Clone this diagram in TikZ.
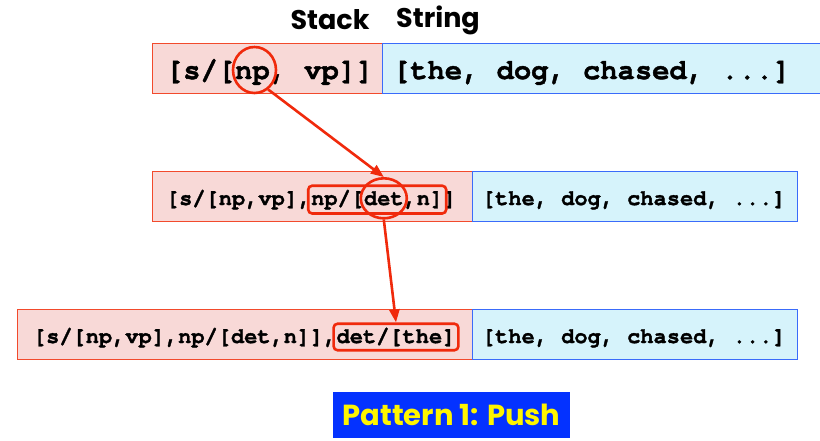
\documentclass[tikz,border=0pt]{standalone}
\usepackage{fontspec}
\setmonofont[BoldFeatures={FakeBold=1.5}]{TeX Gyre Cursor}
\newfontfamily\headfont{Poppins}
\usetikzlibrary{shapes.geometric,arrows.meta,fit}
\definecolor{stackfill}{HTML}{F8D9D7}
\definecolor{stackline}{HTML}{F24A2C}
\definecolor{strfill}{HTML}{D6F3FB}
\definecolor{strline}{HTML}{3A6BFA}
\definecolor{mark}{HTML}{F02A0C}
\definecolor{titlebg}{HTML}{0432FF}
\definecolor{titlefg}{HTML}{FFF500}
\tikzset{
  stackbox/.style={draw=stackline, fill=stackfill, line width=0.8pt},
  strbox/.style={draw=strline, fill=strfill, line width=0.8pt},
  bigtt/.style={font=\fontsize{28.8}{30}\selectfont\ttfamily\bfseries, inner sep=0pt, outer sep=0pt},
  smalltt/.style={font=\fontsize{22}{24}\selectfont\ttfamily\bfseries, inner sep=0pt, outer sep=0pt},
  after/.style={anchor=base west, at=(#1.base east)},
  ring/.style={draw=mark, line width=2.6pt, ellipse, inner sep=0pt},
  tag/.style={draw=mark, line width=2.6pt, rounded corners=4pt, inner xsep=3pt, inner ysep=4pt},
  push/.style={draw=mark, line width=2.6pt, -{Triangle[length=13pt,width=10pt]}},
  header/.style={font=\fontsize{27}{29}\selectfont\headfont\bfseries},
}
\begin{document}
\begin{tikzpicture}[x=1pt,y=-1pt]
\useasboundingbox (0,0) rectangle (820,440);

% column headers
\node[header] (hstack) at (330,20) {Stack};
\node[header] (hstring) at (438,20) {String};

% row 1
\fill[stackbox] (152,43) rectangle (382,93);
\fill[strbox] (382,43) rectangle (822,93);
\node[bigtt, anchor=base west] (r1a) at (166,79) {[s/[};
\node[bigtt, after=r1a] (r1np) {np};
\node[bigtt, after=r1np] (r1b) {, vp]]};
\node[bigtt, anchor=base west] (r1s) at (393,79) {[the, dog, chased, ...]};
\node[ring, minimum width=43pt, minimum height=46pt] (c1) at (254.5,70) {};

% row 2
\fill[stackbox] (152,171) rectangle (472,221);
\fill[strbox] (472,171) rectangle (797,221);
\node[smalltt, anchor=base west] (r2a) at (166,205) {[s/[np,vp],};
\node[smalltt, after=r2a] (r2b) {np/[};
\node[smalltt, after=r2b] (r2det) {det};
\node[smalltt, after=r2det] (r2c) {,n]};
\node[smalltt, after=r2c] (r2d) {]};
\node[smalltt, anchor=base west] (r2s) at (482,205) {[the, dog, chased, ...]};
\node[tag, fit=(r2b)(r2c)] (t2) {};
\node[ring, minimum width=46pt, minimum height=40pt] (c2) at (r2det.center) {};

% row 3
\fill[stackbox] (17,309) rectangle (472,359);
\fill[strbox] (472,309) rectangle (797,359);
\node[smalltt, anchor=base west] (r3a) at (33,343) {[s/[np,vp],np/[det,n]],};
\node[smalltt, after=r3a] (r3b) {det/[the]};
\node[smalltt, anchor=base west] (r3s) at (482,343) {[the, dog, chased, ...]};
\node[tag, fit=(r3b)] (t3) {};

% push arrows
\draw[push] (c1.-55) -- (c2.north);
\draw[push] (c2.south) -- (t3.north);

% caption
\node[fill=titlebg, text=titlefg, font=\fontsize{29}{31}\selectfont\headfont\bfseries,
      minimum width=237pt, minimum height=46pt, inner sep=0pt] (title) at (451.5,415) {Pattern 1: Push};
\end{tikzpicture}
\end{document}
